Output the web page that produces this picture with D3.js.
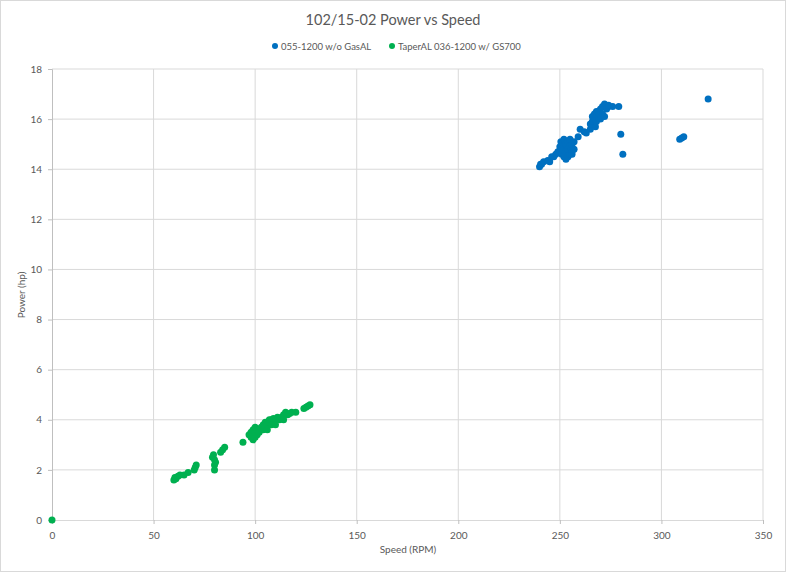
<!DOCTYPE html>
<html><head><meta charset="utf-8">
<script src="https://cdn.jsdelivr.net/npm/d3@7"></script>
<style>body{margin:0;background:#fff}svg{display:block}text{font-family:Lato,"Open Sans",sans-serif}</style>
</head><body>
<script>
const title = "102/15-02 Power vs Speed";
const seriesNames = ["055-1200 w/o GasAL", "TaperAL 036-1200 w/ GS700"];
const seriesColors = ["#0070c0", "#00b050"];
const xTicks = [0, 50, 100, 150, 200, 250, 300, 350];
const yTicks = [0, 2, 4, 6, 8, 10, 12, 14, 16, 18];
const xLabel = "Speed (RPM)";
const yLabel = "Power (hp)";

const blueSpeed = [240,240.5,241,242,244,245,246,247,248,249,250,250,250.5,251,251,251,252,252,252,253,253,253,254,254,254,255,255,255,256,256,256,257,257,259,260,262,263,265,265,266,266,267,267,267.5,268,268,269,269,270,270,271,271,272,272,273,274,274,276,279,280,281,309,310,311,323];
const bluePower = [14.1,14.2,14.2,14.3,14.35,14.3,14.5,14.5,14.6,14.7,14.7,14.9,15.1,14.6,14.8,15.0,15.2,14.5,14.9,14.4,14.7,15.0,14.5,14.8,15.1,14.6,14.9,15.2,14.7,15.0,14.6,14.8,15.1,15.3,15.6,15.5,15.45,15.6,15.8,15.9,16.1,16.0,16.2,15.7,15.9,16.3,16.1,16.3,16.0,16.4,16.2,16.5,16.1,16.6,16.4,16.5,16.55,16.5,16.5,15.4,14.6,15.2,15.25,15.3,16.8];

const greenSpeed = [0,60,60.5,61,62,63,65,67,70,70.5,71,79,79.5,80,80,80,80.5,83,84,85,94,97,98,98,99,99,100,100,100,101,101,102,103,104,104,105,105,106,106,107,107,108,108,109,109,110,110,111,112,113,114,114,115,116,117,118,120,124,125,126,127];
const greenPower = [0,1.6,1.7,1.65,1.75,1.8,1.8,1.9,2.0,2.1,2.2,2.5,2.6,2.4,2.2,2.0,2.3,2.7,2.8,2.9,3.1,3.4,3.3,3.5,3.2,3.6,3.3,3.5,3.7,3.4,3.6,3.5,3.7,3.6,3.8,3.7,3.9,3.6,3.8,3.9,4.0,3.8,4.0,3.9,4.05,4.0,3.8,4.1,4.0,4.1,4.2,4.0,4.3,4.2,4.25,4.3,4.3,4.45,4.5,4.55,4.6];

const W = 786, H = 572;
const m = {left: 52, right: 763, top: 69, bottom: 520};
const svg = d3.select("body").append("svg").attr("width", W).attr("height", H);
svg.append("rect").attr("x",0.5).attr("y",0.5).attr("width",W-1).attr("height",H-1)
  .attr("fill","#fff").attr("stroke","#d9d9d9");

const x = d3.scaleLinear().domain([0,350]).range([m.left, m.right]);
const y = d3.scaleLinear().domain([0,18]).range([m.bottom, m.top]);

// gridlines
svg.append("g").selectAll("line").data(xTicks.slice(1)).join("line")
  .attr("x1", d=>x(d)).attr("x2", d=>x(d)).attr("y1", m.top).attr("y2", m.bottom)
  .attr("stroke","#d9d9d9").attr("stroke-width",1);
svg.append("g").selectAll("line").data(yTicks.slice(1)).join("line")
  .attr("x1", m.left).attr("x2", m.right).attr("y1", d=>y(d)).attr("y2", d=>y(d))
  .attr("stroke","#d9d9d9").attr("stroke-width",1);

// axes
const xAxis = svg.append("g").attr("transform",`translate(0,${m.bottom})`)
  .call(d3.axisBottom(x).tickValues(xTicks).tickSize(4).tickPadding(8));
const yAxis = svg.append("g").attr("transform",`translate(${m.left},0)`)
  .call(d3.axisLeft(y).tickValues(yTicks).tickSize(4).tickPadding(6));
[xAxis, yAxis].forEach(a=>{
  a.selectAll("path").attr("stroke","#bfbfbf");
  a.selectAll("line").attr("stroke","#bfbfbf");
  a.selectAll("text").attr("fill","#595959").style("font-size","10px");
});
xAxis.select("path").attr("stroke","#d9d9d9");

// points
const series = [
  {s: blueSpeed, p: bluePower, c: seriesColors[0]},
  {s: greenSpeed, p: greenPower, c: seriesColors[1]}
];
series.forEach(se=>{
  svg.append("g").selectAll("circle").data(se.s.map((v,i)=>[v, se.p[i]])).join("circle")
    .attr("cx", d=>x(d[0])).attr("cy", d=>y(d[1])).attr("r",3.5).attr("fill", se.c);
});

// title
svg.append("text").attr("x", 393).attr("y", 25).attr("text-anchor","middle")
  .attr("fill","#595959").style("font-size","14.5px").text(title);

// legend
const leg = svg.append("g");
const legX = [275, 392];
seriesNames.forEach((n,i)=>{
  leg.append("circle").attr("cx", legX[i]).attr("cy", 46).attr("r",3).attr("fill", seriesColors[i]);
  leg.append("text").attr("x", legX[i]+6).attr("y", 49.5).attr("fill","#595959")
    .style("font-size","9.5px").text(n);
});

// axis titles
svg.append("text").attr("x", 408).attr("y", 553).attr("text-anchor","middle")
  .attr("fill","#595959").style("font-size","10px").text(xLabel);
svg.append("text").attr("transform","translate(25,295) rotate(-90)").attr("text-anchor","middle")
  .attr("fill","#595959").style("font-size","10px").text(yLabel);
</script>
</body></html>
